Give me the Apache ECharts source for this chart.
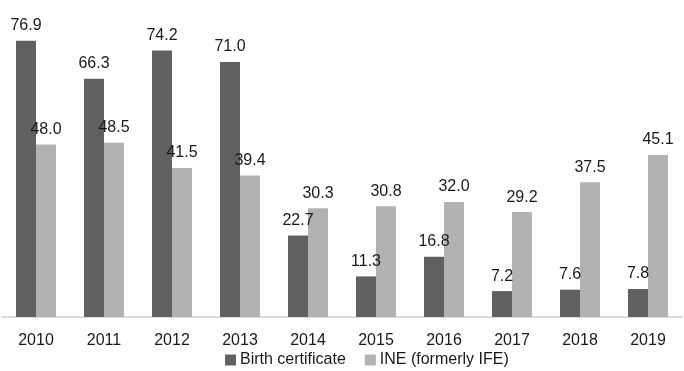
<!DOCTYPE html>
<html>
<head>
<meta charset="utf-8">
<script src="https://cdn.jsdelivr.net/npm/echarts@6/dist/echarts.min.js"></script>
<style>
  html, body { margin: 0; padding: 0; background: #fff; }
  #chart { width: 684px; height: 371px; }
</style>
</head>
<body>
<div id="chart"></div>
<script>
const years = ['2010', '2011', '2012', '2013', '2014', '2015', '2016', '2017', '2018', '2019'];
const birthCertificate = [76.9, 66.3, 74.2, 71.0, 22.7, 11.3, 16.8, 7.2, 7.6, 7.8];
const ineFormerlyIfe = [48.0, 48.5, 41.5, 39.4, 30.3, 30.8, 32.0, 29.2, 37.5, 45.1];

const chart = echarts.init(document.getElementById('chart'));
const labelStyle = {
  show: true,
  position: 'top',
  distance: 7,
  color: '#1a1a1a',
  fontSize: 16,
  fontFamily: 'Liberation Sans',
  formatter: p => p.value.toFixed(1)
};

chart.setOption({
  animation: false,
  textStyle: { fontFamily: 'Liberation Sans' },
  legend: {
    left: 220,
    top: 347,
    itemWidth: 11,
    itemHeight: 11,
    itemGap: 19,
    icon: 'rect',
    textStyle: { color: '#1a1a1a', fontSize: 16, padding: [0, 0, 0, -1] },
    data: ['Birth certificate', 'INE (formerly IFE)']
  },
  grid: { left: 2, right: 2, top: 29.6, bottom: 54 },
  xAxis: {
    type: 'category',
    data: years,
    axisTick: { show: false },
    axisLine: { lineStyle: { color: '#d0d0d0', width: 1.5 } },
    axisLabel: { color: '#1a1a1a', fontSize: 16, margin: 16 }
  },
  yAxis: {
    type: 'value',
    min: 0,
    max: 80,
    show: false,
    splitLine: { show: false }
  },
  series: [
    {
      name: 'Birth certificate',
      type: 'bar',
      data: birthCertificate,
      barWidth: 20,
      barGap: '0%',
      itemStyle: { color: '#606060' },
      label: labelStyle
    },
    {
      name: 'INE (formerly IFE)',
      type: 'bar',
      data: ineFormerlyIfe,
      barWidth: 20,
      itemStyle: { color: '#b2b2b2' },
      label: labelStyle
    }
  ]
});
</script>
</body>
</html>
